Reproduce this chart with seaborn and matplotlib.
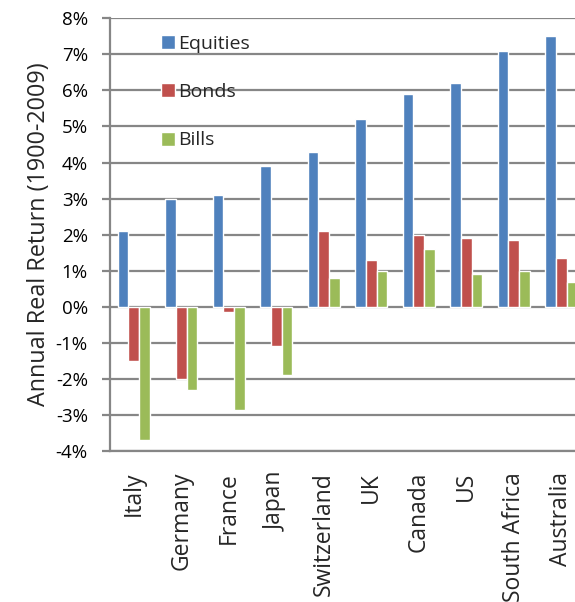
import matplotlib
matplotlib.use("Agg")
import matplotlib.pyplot as plt
import seaborn as sns
import pandas as pd
from matplotlib.ticker import FuncFormatter

countries = ["Italy", "Germany", "France", "Japan", "Switzerland", "UK",
             "Canada", "US", "South Africa", "Australia"]
equities = [2.1, 3.0, 3.1, 3.9, 4.3, 5.2, 5.9, 6.2, 7.1, 7.5]
bonds = [-1.5, -2.0, -0.15, -1.1, 2.1, 1.3, 2.0, 1.9, 1.85, 1.35]
bills = [-3.7, -2.3, -2.85, -1.9, 0.8, 1.0, 1.6, 0.9, 1.0, 0.7]
series_names = ["Equities", "Bonds", "Bills"]
colors = ["#4F81BD", "#C0504D", "#9BBB59"]
y_ticks = list(range(-4, 9))

df = pd.DataFrame({
    "country": countries * 3,
    "asset": [s for s in series_names for _ in countries],
    "ret": equities + bonds + bills,
})

sns.set_style("white")
plt.rcParams["font.family"] = ["Open Sans", "DejaVu Sans"]

fig = plt.figure(figsize=(5.75, 6.02), dpi=100)
ax = fig.add_axes([110 / 575, (602 - 451) / 602, 475 / 575, (451 - 18.3) / 602])

grid_col = "#868686"
for t in y_ticks:
    ax.axhline(t, color=grid_col, lw=1.6, zorder=0)

sns.barplot(data=df, x="country", y="ret", hue="asset", order=countries,
            hue_order=series_names, palette=colors, width=0.667, gap=0,
            saturation=1, errorbar=None, ax=ax, zorder=2, legend=True)

ax.set_ylim(-4, 8)
ax.set_xlim(-0.5, 9.5)
ax.set_yticks(y_ticks)
ax.yaxis.set_major_formatter(FuncFormatter(lambda v, _: f"{v:.0f}%"))
ax.tick_params(axis="y", direction="out", length=6, width=1.6, color=grid_col,
               labelsize=13.5, pad=10, left=True, labelcolor="black")
ax.tick_params(axis="x", length=0, labelsize=16.5, pad=15)
for lab in ax.get_xticklabels():
    lab.set_rotation(90)
    lab.set_va("top")
    lab.set_ha("center")
ax.set_xlabel("")
ax.set_ylabel("Annual Real Return (1900-2009)", fontsize=16.8, labelpad=3)

for side in ["top", "right"]:
    ax.spines[side].set_visible(False)
for side in ["left", "bottom"]:
    ax.spines[side].set_color(grid_col)
    ax.spines[side].set_linewidth(1.6)

handles, labels = ax.get_legend_handles_labels()
ax.legend(handles, labels, loc="upper left", bbox_to_anchor=(0.107, 0.962),
          frameon=False, fontsize=14, handlelength=0.72, handleheight=0.72,
          handletextpad=0.15, labelspacing=1.56, borderaxespad=0,
          borderpad=0)

fig.savefig("out.png", dpi=100)
